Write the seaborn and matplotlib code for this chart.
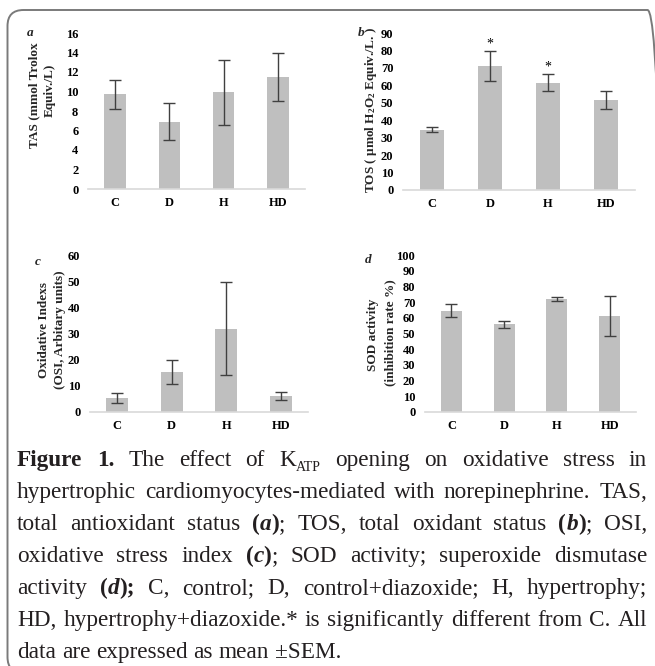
import matplotlib
matplotlib.use('Agg')
import matplotlib.pyplot as plt
from matplotlib.patches import FancyBboxPatch
from matplotlib.transforms import IdentityTransform
import seaborn as sns
import numpy as np
import pandas as pd

# ---------------- data ----------------
groups = ['C', 'D', 'H', 'HD']
tas_mean = [9.7, 6.9, 9.9, 11.5]
tas_sem = [1.5, 1.9, 3.3, 2.5]
tos_mean = [34.6, 71.0, 61.5, 51.5]
tos_sem = [1.6, 8.6, 4.8, 5.2]
tos_sig = ['', '*', '*', '']
osi_mean = [5.4, 15.4, 32.1, 6.1]
osi_sem = [1.9, 4.6, 17.9, 1.5]
sod_mean = [64.6, 55.9, 72.2, 61.2]
sod_sem = [3.9, 2.2, 1.2, 13.0]

W, H = 655, 666
sns.set_theme(style='white')
plt.rcParams['font.family'] = ['Liberation Serif', 'DejaVu Serif']
plt.rcParams['mathtext.fontset'] = 'custom'
plt.rcParams['mathtext.rm'] = 'Liberation Serif:bold'
plt.rcParams['mathtext.bf'] = 'Liberation Serif:bold'
plt.rcParams['mathtext.it'] = 'Liberation Serif:bold:italic'

fig = plt.figure(figsize=(W / 100, H / 100), dpi=100)
fig.patch.set_facecolor('white')


def add_axes(l, t, r, b):
    return fig.add_axes([l / W, 1 - b / H, (r - l) / W, (b - t) / H])


def ftext(px, py, s, **kw):
    return fig.text(px, H - py, s, transform=IdentityTransform(), **kw)


BAR = '#BFBFBF'
ERR = '#404040'
TICK_FS = 9


def panel(rect, means, sems, ymax, step, sig=None):
    ax = add_axes(*rect)
    df = pd.DataFrame({'group': groups, 'value': means})
    sns.barplot(data=df, x='group', y='value', color=BAR, saturation=1,
                width=0.4, edgecolor='none', errorbar=None, ax=ax)
    ax.errorbar(np.arange(len(groups)), means, yerr=sems, fmt='none',
                ecolor=ERR, elinewidth=1.0, capsize=4, capthick=1.0)
    ax.set_xlim(-0.5, len(groups) - 0.5)
    ax.set_ylim(0, ymax)
    ax.set_yticks(np.arange(0, ymax + step / 2, step))
    ax.set_xlabel('')
    ax.set_ylabel('')
    for s in ['top', 'right', 'left']:
        ax.spines[s].set_visible(False)
    ax.spines['bottom'].set_color('#D9D9D9')
    ax.spines['bottom'].set_linewidth(1.2)
    ax.tick_params(axis='both', length=0, labelsize=TICK_FS, colors='black')
    ax.tick_params(axis='y', pad=7)
    ax.tick_params(axis='x', pad=6)
    for lab in ax.get_xticklabels() + ax.get_yticklabels():
        lab.set_fontweight('bold')
    ax.set_facecolor('none')
    ax.grid(False)
    if sig is not None:
        for i, (m, e, s) in enumerate(zip(means, sems, sig)):
            if s:
                ax.text(i, m + e + 0.2, s, ha='center', va='bottom',
                        fontsize=10, color='black')
    return ax


panel((88, 33, 305, 189), tas_mean, tas_sem, 16, 2)
panel((403, 33, 635, 190), tos_mean, tos_sem, 90, 10, sig=tos_sig)
panel((90, 256, 308, 412), osi_mean, osi_sem, 60, 10)
panel((425, 255, 636, 412), sod_mean, sod_sem, 100, 10)

LAB = dict(rotation=90, ha='center', va='center', fontweight='bold', fontsize=9.5)
ftext(34, 95, 'TAS (mmol Trolox', **LAB)
ftext(50, 90, 'Equiv./L)', **LAB)
ftext(371, 110, r'TOS ( μmol H$_\mathrm{2}$O$_\mathrm{2}$ Equiv./L. )', **LAB)
ftext(44, 330, 'Oxidative Indexs', **LAB)
ftext(60, 330, '(OSI, Arbitary units)', **LAB)
ftext(373, 335, 'SOD activity', **LAB)
ftext(390, 333, '(inhibition rate %)', **LAB)

LET = dict(ha='center', va='center', fontweight='bold', fontstyle='italic', fontsize=9.5)
ftext(30, 33, 'a', **LET)
ftext(361, 33, 'b', **LET)
ftext(38, 262, 'c', **LET)
ftext(368, 260, 'd', **LET)

# ---------------- frame ----------------
frame = FancyBboxPatch((7.5, H - 673), 656, 663,
                       boxstyle='round,pad=0,rounding_size=16',
                       transform=IdentityTransform(), fill=False,
                       ec='#7A7A7A', lw=1.4)
fig.add_artist(frame)

# ---------------- caption (justified) ----------------
renderer = fig.canvas.get_renderer()


def B(t):
    return (t, 'b')


def BI(t):
    return (t, 'bi')


cap_lines = [
    [[B('Figure')], [B('1.')], 'The', 'effect', 'of', [('K', 'r'), ('ATP', 'sub')],
     'opening', 'on', 'oxidative', 'stress', 'in'],
    'hypertrophic cardiomyocytes-mediated with norepinephrine. TAS,'.split(),
    ['total', 'antioxidant', 'status', [B('('), BI('a'), B(')'), (';', 'r')], 'TOS,',
     'total', 'oxidant', 'status', [B('('), BI('b'), B(')'), (';', 'r')], 'OSI,'],
    ['oxidative', 'stress', 'index', [B('('), BI('c'), B(')'), (';', 'r')], 'SOD',
     'activity;', 'superoxide', 'dismutase'],
    ['activity', [B('('), BI('d'), B(');')], 'C,', 'control;', 'D,',
     'control+diazoxide;', 'H,', 'hypertrophy;'],
    'HD, hypertrophy+diazoxide.* is significantly different from C. All'.split(),
    'data are expressed as mean ±SEM.'.split(),
]
baselines = [466, 498, 530, 562, 594, 626, 658]
LEFT, RIGHT = 17, 647


def make_seg(text, st, fs):
    kw = dict(fontsize=fs, va='baseline', ha='left', color='#231F20')
    dy = 0
    if st == 'b':
        kw['fontweight'] = 'bold'
    elif st == 'bi':
        kw['fontweight'] = 'bold'
        kw['fontstyle'] = 'italic'
    elif st == 'sub':
        kw['fontsize'] = fs * 0.6
        dy = -0.3 * fs
    t = ftext(0, 0, text, **kw)
    w = t.get_window_extent(renderer).width
    return t, w, dy


def build(fs):
    out = []
    for line in cap_lines:
        words = []
        for tok in line:
            if isinstance(tok, str):
                tok = [(tok, 'r')]
            words.append([make_seg(tx, st, fs) for tx, st in tok])
        out.append(words)
    a1 = make_seg('a a', 'r', fs)
    a2 = make_seg('aa', 'r', fs)
    space = a1[1] - a2[1]
    a1[0].remove()
    a2[0].remove()
    return out, space


def remove_all(built):
    for words in built:
        for ws in words:
            for t, _, _ in ws:
                t.remove()


# find font size so that the tightest justified line has natural spacing
test, sp = build(10)
natural = max(sum(w for ws in words for _, w, _ in ws) + sp * (len(words) - 1)
              for words in test[:-1])
remove_all(test)
CAP_FS = 10 * (RIGHT - LEFT) / natural * 0.99

built, SPACE = build(CAP_FS)
for i, (words, base) in enumerate(zip(built, baselines)):
    widths = [sum(w for _, w, _ in ws) for ws in words]
    if i < len(built) - 1:
        gap = (RIGHT - LEFT - sum(widths)) / (len(words) - 1)
    else:
        gap = SPACE
    x = LEFT
    for ws in words:
        for t, w, dy in ws:
            t.set_position((x, H - base + dy))
            x += w
        x += gap

fig.savefig('out.png', dpi=100, facecolor='white')
